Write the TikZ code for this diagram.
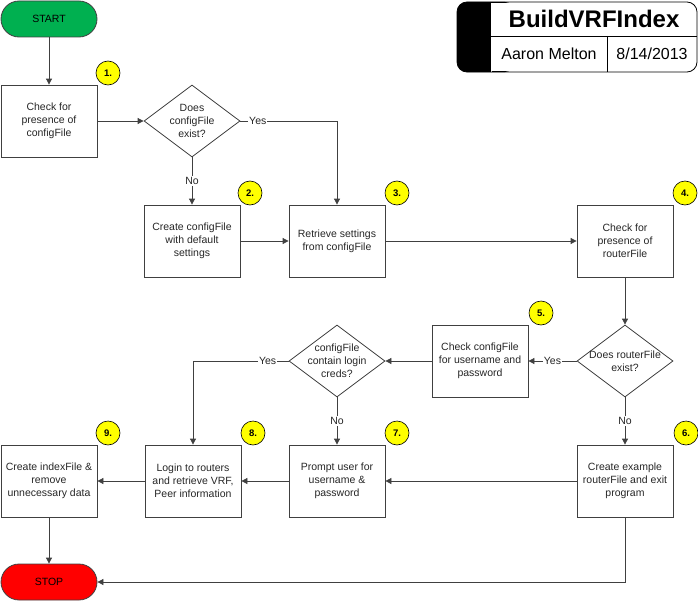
\documentclass[tikz,border=0pt]{standalone}
\usepackage{fontspec}
\setmainfont{Liberation Sans}
\usetikzlibrary{shapes.geometric,arrows.meta}

\definecolor{startgreen}{HTML}{00B050}
\definecolor{stopred}{HTML}{FF0000}
\definecolor{badgeyellow}{HTML}{FFFF00}
\definecolor{lineg}{HTML}{404040}

\tikzset{
  box/.style={draw=lineg, line width=0.8pt, minimum width=96pt, minimum height=72pt,
    inner sep=1pt, align=center, font=\fontsize{10.5}{13}\selectfont, text=black!85},
  term/.style={draw=lineg, line width=0.8pt, rounded corners=18pt, minimum width=96pt,
    minimum height=36pt, font=\fontsize{10.5}{13}\selectfont},
  decision/.style={draw=lineg, line width=0.8pt, diamond, minimum width=96pt,
    minimum height=72pt, inner sep=0pt},
  dtext/.style={align=center, font=\fontsize{10.5}{13}\selectfont, text=black!85, inner sep=0pt},
  badge/.style={draw=black, line width=0.6pt, circle, fill=badgeyellow, minimum size=24pt,
    inner sep=0pt, font=\bfseries\fontsize{9.5}{11}\selectfont},
  lab/.style={fill=white, inner sep=1pt, font=\fontsize{10.5}{13}\selectfont, text=black!85},
  flow/.style={draw=lineg, line width=0.8pt, -{Triangle[length=6pt,width=6pt]}},
}

\begin{document}
\begin{tikzpicture}[x=1pt, y=-1pt]
  \useasboundingbox (0,0) rectangle (698,602);

  % Terminals
  \node[term, fill=startgreen] (start) at (49,19)  {START};
  \node[term, fill=stopred]    (stop)  at (49,582) {STOP};

  % Top rows
  \node[box] (checkcfg) at (49,121)  {Check for\\presence of\\configFile};
  \node[decision] (cfgexist) at (192,121) {};
  \node[dtext] (cfgexist-t) at (cfgexist) {Does\\configFile\\exist?};
  \node[box] (newcfg)  at (192,241) {Create configFile\\with default\\settings};
  \node[box] (readcfg) at (337,241) {Retrieve settings\\from configFile};
  \node[box] (checkrtr) at (625,241) {Check for\\presence of\\routerFile};

  % Middle row
  \node[decision] (rtrexist) at (625,361) {};
  \node[dtext] (rtrexist-t) at (rtrexist) {Does routerFile\\exist?};
  \node[box] (checkcred) at (480,361) {Check configFile\\for username and\\password};
  \node[decision] (credexist) at (337,361) {};
  \node[dtext] (credexist-t) at (credexist) {configFile\\contain login\\creds?};

  % Bottom row
  \node[box] (index)  at (49,481)  {Create indexFile \&\\remove\\unnecessary data};
  \node[box] (login)  at (193,481) {Login to routers\\and retrieve VRF,\\Peer information};
  \node[box] (prompt) at (337,481) {Prompt user for\\username \&\\password};
  \node[box] (newrtr) at (625,481) {Create example\\routerFile and exit\\program};

  % Step numbers
  \node[badge] (n1) at (108,73)  {1.};
  \node[badge] (n2) at (250,193) {2.};
  \node[badge] (n3) at (397,193) {3.};
  \node[badge] (n4) at (685,193) {4.};
  \node[badge] (n5) at (541,313) {5.};
  \node[badge] (n6) at (686,433) {6.};
  \node[badge] (n7) at (397,433) {7.};
  \node[badge] (n8) at (253,433) {8.};
  \node[badge] (n9) at (108,433) {9.};

  % Connectors
  \draw[flow] (start) -- (checkcfg);
  \draw[flow] (checkcfg) -- (cfgexist);
  \draw[flow] (cfgexist.east) -- node[lab, pos=0.18] {Yes} (cfgexist.east -| readcfg) -- (readcfg);
  \draw[flow] (cfgexist) -- node[lab] {No} (newcfg);
  \draw[flow] (newcfg) -- (readcfg);
  \draw[flow] (readcfg) -- (checkrtr);
  \draw[flow] (checkrtr) -- (rtrexist);
  \draw[flow] (rtrexist) -- node[lab] {Yes} (checkcred);
  \draw[flow] (rtrexist) -- node[lab] {No} (newrtr);
  \draw[flow] (checkcred) -- (credexist);
  \draw[flow] (credexist.west) -- node[lab, pos=0.22] {Yes} (credexist.west -| login) -- (login);
  \draw[flow] (credexist) -- node[lab] {No} (prompt);
  \draw[flow] (newrtr) -- (prompt);
  \draw[flow] (prompt) -- (login);
  \draw[flow] (login) -- (index);
  \draw[flow] (index) -- (stop);
  \draw[flow] (newrtr) |- (stop);

  % Title block
  \fill[black, rounded corners=10pt] (457,2) rectangle (515,72);
  \fill[white] (491,3) rectangle (520,71);
  \draw[white, dotted, line width=0.6pt] (491,3) -- (491,71);
  \draw[black, line width=0.8pt, rounded corners=10pt] (457,2) rectangle (697,72);
  \draw[black, line width=0.8pt] (491,36) -- (697,36);
  \draw[black, line width=0.8pt] (607,36) -- (607,72);
  \node[font=\bfseries\fontsize{24}{28}\selectfont, inner sep=0pt] (title) at (594,19) {BuildVRFIndex};
  \node[font=\fontsize{16}{19}\selectfont, inner sep=0pt] (author) at (549,54) {Aaron Melton};
  \node[font=\fontsize{16}{19}\selectfont, inner sep=0pt] (date) at (652,54) {8/14/2013};
\end{tikzpicture}
\end{document}
